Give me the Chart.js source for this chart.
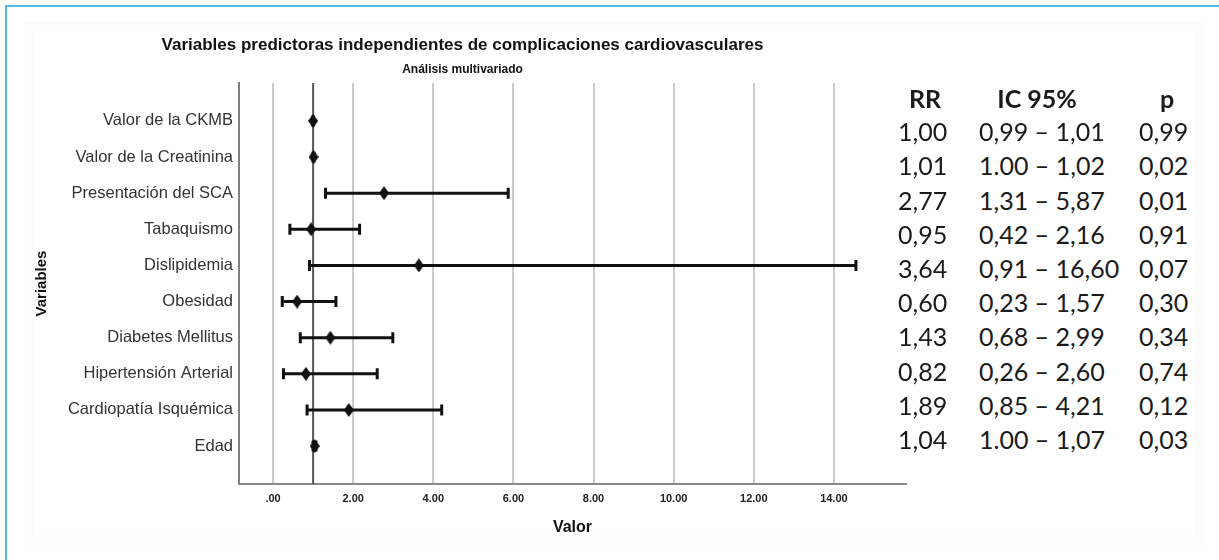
<!DOCTYPE html>
<html>
<head>
<meta charset="utf-8">
<script src="https://cdn.jsdelivr.net/npm/chart.js@4/dist/chart.umd.min.js"></script>
<style>
  html, body { margin: 0; padding: 0; background: #fff; }
  body { width: 1219px; height: 560px; position: relative; overflow: hidden; font-family: "Liberation Sans", Arial, sans-serif; }
  #frame { position: absolute; left: 5px; top: 5px; width: 1214px; height: 555px; border-left: 2px solid #55b8e4; border-top: 2px solid #55b8e4; }
  #mat   { position: absolute; left: 24px; top: 22px; width: 1160px; height: 503px; border: 10px solid #fcfcfc; }
  #wrap  { position: absolute; left: 14px; top: 14px; width: 900px; height: 530px; }
  .cell  { position: absolute; font-family: Lato, "Open Sans", sans-serif; font-size: 25px; line-height: 30px; color: #1a1a1a; white-space: pre; }
  .head  { font-weight: bold; text-align: center; width: 120px; }
</style>
</head>
<body>
<div id="frame"></div>
<div id="mat"></div>
<div id="wrap"><canvas id="forest"></canvas></div>
<div id="table"></div>

<script>
// ── Data ─────────────────────────────────────────────────────────────────────
const labels = [
  'Valor de la CKMB', 'Valor de la Creatinina', 'Presentación del SCA', 'Tabaquismo',
  'Dislipidemia', 'Obesidad', 'Diabetes Mellitus', 'Hipertensión Arterial',
  'Cardiopatía Isquémica', 'Edad',
];
const rr     = [1.00, 1.01, 2.77, 0.95, 3.64, 0.60, 1.43, 0.82, 1.89, 1.04];
const ciLow  = [0.99, 1.00, 1.31, 0.42, 0.91, 0.23, 0.68, 0.26, 0.85, 1.00];
// Dislipidemia's bar is cut at ~14.55 in the picture (true limit 16.60)
const ciHigh = [1.01, 1.02, 5.87, 2.16, 14.55, 1.57, 2.99, 2.60, 4.21, 1.07];
const xTicks = [0, 2, 4, 6, 8, 10, 12, 14];
const refValue = 1;

// table on the right
const tableHeads = ['RR', 'IC 95%', 'p'];
const rrText = ['1,00', '1,01', '2,77', '0,95', '3,64', '0,60', '1,43', '0,82', '1,89', '1,04'];
const icText = ['0,99 – 1,01', '1.00 – 1,02', '1,31 – 5,87', '0,42 – 2,16', '0,91 – 16,60',
                '0,23 – 1,57', '0,68 – 2,99', '0,26 – 2,60', '0,85 – 4,21', '1.00 – 1,07'];
const pText  = ['0,99', '0,02', '0,01', '0,91', '0,07', '0,30', '0,34', '0,74', '0,12', '0,03'];

// ── Table (plain text, positioned to the right of the plot) ──────────────────
(function buildTable() {
  const host = document.getElementById('table');
  const headCenters = [925, 1037, 1167];
  const colLeft = [898, 979, 1139];
  const rowTop = i => 131.7 + 34.2 * i - 15.5;
  let html = '';
  tableHeads.forEach((h, c) => {
    html += `<div class="cell head" style="left:${headCenters[c] - 60}px;top:${98 - 15.5}px">${h}</div>`;
  });
  [rrText, icText, pText].forEach((col, c) => {
    col.forEach((t, i) => {
      html += `<div class="cell" style="left:${colLeft[c]}px;top:${rowTop(i)}px">${t}</div>`;
    });
  });
  host.innerHTML = html;
})();

// ── Marker: tall black diamond ───────────────────────────────────────────────
function _diamond(w, h) {
  const c = document.createElement('canvas');
  c.width = w; c.height = h;
  const g = c.getContext('2d');
  g.fillStyle = '#111';
  g.beginPath();
  g.moveTo(w / 2, 0); g.lineTo(w, h / 2); g.lineTo(w / 2, h); g.lineTo(0, h / 2);
  g.closePath(); g.fill();
  return c;
}

// ── Plugins: reference line at RR = 1 and the CI bars ────────────────────────
const refLine = {
  id: 'refLine',
  beforeDatasetsDraw(chart) {
    const { ctx, chartArea, scales: { x } } = chart;
    const px = x.getPixelForValue(refValue);
    ctx.save();
    ctx.strokeStyle = '#555';
    ctx.lineWidth = 2;
    ctx.beginPath();
    ctx.moveTo(px, chartArea.top); ctx.lineTo(px, chartArea.bottom);
    ctx.stroke();
    ctx.restore();
  },
};

const errorBars = {
  id: 'errorBars',
  beforeDatasetsDraw(chart) {
    const { ctx, scales: { x, y } } = chart;
    ctx.save();
    ctx.strokeStyle = '#111';
    ctx.lineWidth = 3;
    ciLow.forEach((lo, i) => {
      const py = y.getPixelForValue(i);
      const x0 = x.getPixelForValue(lo);
      const x1 = x.getPixelForValue(ciHigh[i]);
      ctx.beginPath();
      ctx.moveTo(x0, py); ctx.lineTo(x1, py);
      ctx.moveTo(x0, py - 5.5); ctx.lineTo(x0, py + 5.5);
      ctx.moveTo(x1, py - 5.5); ctx.lineTo(x1, py + 5.5);
      ctx.stroke();
    });
    ctx.restore();
  },
};

// ── Chart ────────────────────────────────────────────────────────────────────
Chart.defaults.font.family = '"Liberation Sans", Arial, sans-serif';

new Chart(document.getElementById('forest'), {
  type: 'scatter',
  data: {
    datasets: [{
      label: 'RR',
      data: rr.map((v, i) => ({ x: v, y: i })),
      pointStyle: _diamond(10, 14),
      pointRadius: 7,
    }],
  },
  plugins: [refLine, errorBars],
  options: {
    responsive: true,
    maintainAspectRatio: false,
    animation: false,
    layout: { padding: { left: 0, right: 3, top: 0, bottom: 0 } },
    plugins: {
      legend:  { display: false },
      tooltip: { enabled: false },
      title: {
        display: true,
        text: 'Variables predictoras independientes de complicaciones cardiovasculares',
        color: '#111',
        font: { size: 17, weight: 'bold' },
        padding: { top: 21, bottom: 5 },
      },
      subtitle: {
        display: true,
        text: 'Análisis multivariado',
        color: '#111',
        font: { size: 12, weight: 'bold' },
        padding: { top: 2, bottom: 6.2 },
      },
    },
    scales: {
      x: {
        type: 'linear',
        min: -0.85,
        max: 15.8,
        afterBuildTicks: s => { s.ticks = xTicks.map(v => ({ value: v })); },
        afterFit: s => { s.height = 60; },
        grid:   { color: '#c9c9c9', lineWidth: 2, drawTicks: false },
        border: { color: '#8a8a8a', width: 2 },
        ticks: {
          autoSkip: false, maxRotation: 0, padding: 8, color: '#222',
          font: { size: 11, weight: 'bold' },
          callback: v => v === 0 ? '.00' : v.toFixed(2),
        },
        title: {
          display: true, text: 'Valor', color: '#111',
          font: { size: 16, weight: 'bold' },
          padding: { top: 0, bottom: 6.4 },
        },
      },
      y: {
        type: 'linear',
        reverse: true,
        min: -1.05,
        max: 10.05,
        afterBuildTicks: s => { s.ticks = labels.map((_, i) => ({ value: i })); },
        afterFit: s => { s.width = 225; },
        grid:   { drawOnChartArea: false, drawTicks: false },
        border: { color: '#808080', width: 2 },
        ticks: {
          autoSkip: false, padding: 6, color: '#333',
          font: { size: 16.5 },
          callback: v => labels[v],
        },
        title: {
          display: true, text: 'Variables', color: '#111',
          font: { size: 15, weight: 'bold' },
          padding: { top: 19, bottom: 0 },
        },
      },
    },
  },
});
</script>
</body>
</html>
